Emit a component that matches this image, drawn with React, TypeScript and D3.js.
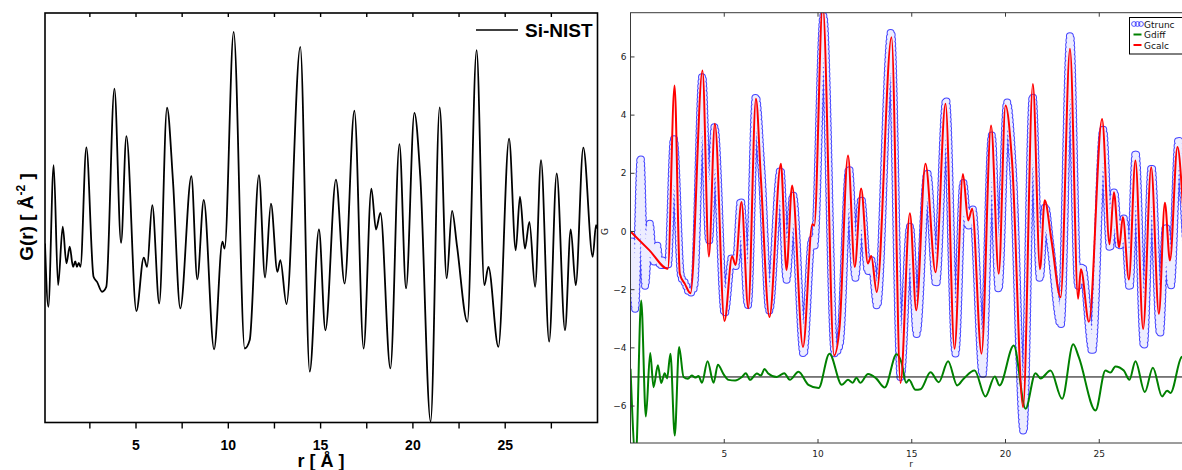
import React from "react";
import * as d3 from "d3";

const W = 1182;
const H = 470;

// Observed PDF (Si-NIST, also plotted as Gtrunc on the right)
const rObs = [0.07, 0.25, 0.54, 0.78, 1.03, 1.23, 1.41, 1.59, 1.71, 1.8, 1.9, 1.99, 2.31, 2.7, 2.89, 3.16, 3.39, 3.83, 4.19, 4.48, 5.02, 5.42, 5.6, 5.88, 6.26, 6.68, 7.0, 7.4, 8.0, 8.32, 8.67, 9.23, 9.68, 9.8, 10.29, 10.89, 11.16, 11.66, 11.99, 12.31, 12.66, 12.82, 13.15, 13.9, 14.41, 14.91, 15.26, 15.83, 16.3, 16.83, 17.33, 17.75, 18.0, 18.24, 18.78, 19.27, 19.63, 20.08, 20.4, 20.96, 21.45, 21.83, 22.12, 22.39, 22.95, 23.45, 23.87, 24.09, 24.63, 25.21, 25.57, 25.8, 26.07, 26.31, 26.62, 26.94, 27.38, 27.79, 28.24, 28.55, 28.82, 29.23, 29.74, 29.92, 30.0];
const gObs = [-0.34, -2.66, 2.53, -1.87, 0.27, -1.07, -0.46, -1.2, -1.0, -1.2, -1.05, -1.2, 3.18, -1.56, -1.75, -2.11, -1.93, 5.33, -0.32, 3.59, -2.82, -0.86, -1.2, 1.06, -2.54, 4.63, 1.98, -2.72, 2.12, -1.66, 1.25, -4.22, -0.28, -0.53, 7.41, -4.19, -3.88, 2.16, -1.59, 1.12, -1.38, -0.95, -2.56, 6.86, -5.04, 0.17, -3.52, 2.0, -1.81, 4.52, -4.19, 1.67, 0.17, 0.78, -4.92, 3.3, -1.99, 4.44, 2.1, -6.87, 4.64, -1.62, 0.85, -0.44, -3.21, 6.74, -1.87, -1.2, -4.13, 3.5, -0.59, 1.37, -0.53, 0.45, -1.93, 2.71, -3.94, 2.22, -3.52, 0.17, -1.87, 3.17, -0.83, 0.33, 0.2];

// Calculated PDF (Gcalc)
const rCalc = [0, 1.0, 1.99, 2.35, 2.63, 2.9, 3.2, 3.84, 4.18, 4.5, 5.01, 5.42, 5.6, 5.92, 6.28, 6.69, 6.95, 7.41, 8.02, 8.32, 8.62, 9.2, 9.7, 9.8, 10.25, 10.86, 11.15, 11.6, 11.96, 12.3, 12.66, 12.84, 13.13, 13.92, 14.4, 14.9, 15.24, 15.73, 16.27, 16.8, 17.28, 17.73, 18.01, 18.22, 18.72, 19.23, 19.64, 20.0, 20.35, 20.94, 21.46, 21.84, 22.09, 22.45, 22.94, 23.44, 23.87, 24.02, 24.45, 25.15, 25.55, 25.78, 26.06, 26.26, 26.58, 26.93, 27.34, 27.77, 28.18, 28.5, 28.77, 29.17, 29.7, 30.0];
const gCalc = [0, -0.64, -1.28, 5.02, -1.45, -1.8, -2.12, 5.53, -0.86, 3.7, -3.08, -0.85, -1.15, 1.01, -2.64, 4.56, 1.87, -2.94, 2.33, -1.32, 1.58, -3.97, 0.25, 0.2, 7.8, -4.26, -3.3, 2.61, -1.22, 1.48, -1.1, -0.84, -2.08, 6.68, -5.21, 0.63, -2.71, 2.33, -1.4, 4.39, -4.03, 1.98, 0.38, 0.78, -4.2, 3.64, -1.45, 4.33, 2.4, -6.04, 5.07, -1.3, 1.07, -0.3, -2.26, 6.28, -2.31, -1.3, -3.1, 3.87, -0.44, 1.35, -0.54, 0.5, -1.65, 2.44, -3.35, 2.21, -2.83, 0.99, -1.0, 2.9, -0.6, 0.3];

// Difference curve (Gdiff, offset at -5)
const rDiff = [0.0, 0.28, 0.57, 0.82, 1.05, 1.23, 1.46, 1.64, 1.82, 1.95, 2.13, 2.36, 2.59, 2.83, 3.06, 3.27, 3.45, 3.63, 3.81, 4.11, 4.43, 4.66, 4.96, 5.23, 5.58, 5.94, 6.15, 6.38, 6.74, 6.95, 7.15, 7.33, 7.8, 8.2, 8.5, 8.96, 9.49, 10.03, 10.61, 11.27, 11.6, 11.85, 12.05, 12.25, 12.67, 13.1, 13.56, 14.19, 14.45, 14.7, 14.85, 15.2, 15.47, 16.0, 16.44, 16.94, 17.42, 17.78, 18.35, 18.93, 19.43, 19.68, 20.44, 21.07, 21.6, 21.87, 22.4, 23.02, 23.61, 23.91, 24.8, 25.33, 25.6, 25.86, 26.31, 26.61, 26.93, 27.43, 27.86, 28.35, 28.62, 28.8, 29.39, 30.0];
const gDiff = [-4.72, -7.8, -2.37, -6.36, -4.18, -5.35, -4.6, -5.21, -4.87, -5.05, -4.2, -7.01, -3.97, -5.0, -5.06, -4.95, -5.02, -4.97, -5.2, -4.46, -5.2, -4.58, -4.9, -5.1, -5.12, -5.0, -4.87, -5.1, -4.88, -4.95, -4.73, -4.87, -5.0, -4.87, -5.1, -4.82, -5.27, -5.38, -4.2, -5.27, -5.1, -5.2, -5.03, -5.2, -4.9, -5.05, -5.36, -4.22, -4.5, -5.2, -5.1, -5.44, -5.42, -4.84, -5.18, -4.46, -5.29, -5.05, -4.78, -5.67, -4.98, -5.29, -3.92, -6.09, -4.87, -5.05, -4.78, -5.75, -3.88, -4.32, -6.15, -4.78, -4.85, -4.64, -4.78, -5.1, -4.46, -5.52, -4.68, -5.67, -5.47, -5.55, -4.32, -4.2];

const diffBaseline = -5;

const leftMinorTicks = [2.5, 5, 7.5, 10, 12.5, 15, 17.5, 20, 22.5, 25, 27.5];
const leftTickLabels = [5, 10, 15, 20, 25];
const rightXTicks = [5, 10, 15, 20, 25];
const rightYTicks = [6, 4, 2, 0, -2, -4, -6];

const legendLeft = "Si-NIST";
const legendRight = ["Gtrunc", "Gdiff", "Gcalc"];

const pts = (rs: number[], gs: number[]) => rs.map((r, i) => [r, gs[i]] as [number, number]);

export default function App() {
  // Left panel scales
  const xL = d3.scaleLinear().domain([0.07, 30]).range([45, 597.5]);
  const yL = d3.scaleLinear().domain([-6.9, 8.1]).range([422.5, 13]);
  // Right panel scales
  const xR = d3.scaleLinear().domain([0, 30]).range([630.5, 1193]);
  const yR = d3.scaleLinear().domain([-7.27, 7.52]).range([443, 12.7]);

  const lineL = d3.line<[number, number]>().x((d) => xL(d[0])).y((d) => yL(d[1])).curve(d3.curveMonotoneX);
  const lineR = d3.line<[number, number]>().x((d) => xR(d[0])).y((d) => yR(d[1])).curve(d3.curveMonotoneX);

  const obsL = lineL(pts(rObs, gObs)) || "";
  const obsR = lineR(pts(rObs, gObs)) || "";
  const calcR = lineR(pts(rCalc, gCalc)) || "";
  const diffR = lineR(pts(rDiff, gDiff)) || "";

  const fL = "'Liberation Sans', Arial, Helvetica, sans-serif";
  const fR = "'DejaVu Sans', sans-serif";
  const axisGray = "#3a3a3a";
  const blue = "#2424ff";

  const lf = { x: 45, y: 13, w: 552.5, h: 409.5 };
  const rf = { x: 630.5, y: 12.7, w: 1193 - 630.5, h: 443 - 12.7 };

  return (
    <svg width={W} height={H} style={{ position: "absolute", left: 0, top: 0, background: "#fff" }}>
      <defs>
        <clipPath id="clipL">
          <rect x={lf.x} y={lf.y} width={lf.w} height={lf.h} />
        </clipPath>
        <clipPath id="clipR">
          <rect x={rf.x} y={rf.y} width={rf.w} height={rf.h} />
        </clipPath>
      </defs>
      <rect x={0} y={0} width={W} height={H} fill="#fff" />

      {/* ---------- LEFT PANEL ---------- */}
      <g>
        <path d={obsL} fill="none" stroke="#000" strokeWidth={1.8} clipPath="url(#clipL)" />
        <rect x={lf.x} y={lf.y} width={lf.w} height={lf.h} fill="none" stroke="#000" strokeWidth={1.6} />
        {leftMinorTicks.map((t) => (
          <g key={"lt" + t}>
            <line x1={xL(t)} x2={xL(t)} y1={lf.y + lf.h} y2={lf.y + lf.h + 6} stroke="#000" strokeWidth={1.4} />
            <line x1={xL(t)} x2={xL(t)} y1={lf.y} y2={lf.y + 4} stroke="#000" strokeWidth={1.4} />
          </g>
        ))}
        {leftTickLabels.map((t) => (
          <text key={"ll" + t} x={xL(t)} y={450} textAnchor="middle" fontFamily={fL} fontWeight="bold" fontSize={14} fill="#000">
            {t}
          </text>
        ))}
        <text x={321} y={467} textAnchor="middle" fontFamily={fL} fontWeight="bold" fontSize={18} fill="#000">
          r [ Å ]
        </text>
        <text transform="translate(33,217) rotate(-90)" textAnchor="middle" fontFamily={fL} fontWeight="bold" fontSize={19} fill="#000">
          <tspan>G(r) [ Å</tspan>
          <tspan fontSize={12} dy={-8}>-2</tspan>
          <tspan dy={8}> ]</tspan>
        </text>
        <line x1={476} x2={518} y1={30} y2={30} stroke="#000" strokeWidth={1.6} />
        <text x={525} y={37} fontFamily={fL} fontWeight="bold" fontSize={19} fill="#000">
          {legendLeft}
        </text>
      </g>

      {/* ---------- RIGHT PANEL ---------- */}
      <g>
        <g clipPath="url(#clipR)">
          <path d={obsR} fill="none" stroke={blue} strokeOpacity={0.85} strokeWidth={8} strokeLinecap="round" strokeDasharray="0 4.5" />
          <path d={obsR} fill="none" stroke="#ffffff" strokeOpacity={0.9} strokeWidth={6} strokeLinecap="round" strokeDasharray="0 4.5" />
          <line x1={rf.x} x2={rf.x + rf.w} y1={yR(diffBaseline)} y2={yR(diffBaseline)} stroke="#000" strokeWidth={1} />
          <path d={diffR} fill="none" stroke="#008000" strokeWidth={2} />
          <path d={calcR} fill="none" stroke="#ff0000" strokeWidth={2} />
        </g>
        <rect x={rf.x} y={rf.y} width={rf.w} height={rf.h} fill="none" stroke={axisGray} strokeWidth={1} />
        {rightXTicks.map((t) => (
          <g key={"rx" + t}>
            <line x1={xR(t)} x2={xR(t)} y1={rf.y + rf.h} y2={rf.y + rf.h - 4} stroke={axisGray} />
            <line x1={xR(t)} x2={xR(t)} y1={rf.y} y2={rf.y + 4} stroke={axisGray} />
            <text x={xR(t)} y={457} textAnchor="middle" fontFamily={fR} fontSize={9} fill="#222">
              {t}
            </text>
          </g>
        ))}
        {rightYTicks.map((t) => (
          <g key={"ry" + t}>
            <line x1={rf.x} x2={rf.x + 4} y1={yR(t)} y2={yR(t)} stroke={axisGray} />
            <text x={626.5} y={yR(t) + 3.2} textAnchor="end" fontFamily={fR} fontSize={9} fill="#222">
              {t < 0 ? "\u2212" + Math.abs(t) : String(t)}
            </text>
          </g>
        ))}
        <text x={911} y={467} textAnchor="middle" fontFamily={fR} fontSize={9} fill="#222">
          r
        </text>
        <text transform={`translate(608,${yR(0)}) rotate(-90)`} textAnchor="middle" fontFamily={fR} fontSize={9} fill="#222">
          G
        </text>

        {/* legend */}
        <rect x={1129.5} y={17.5} width={70} height={36.5} fill="#fff" stroke="#000" strokeWidth={1} />
        {[0, 1, 2].map((i) => (
          <circle key={"lc" + i} cx={1134 + i * 3.5} cy={24} r={2.4} fill="none" stroke={blue} strokeOpacity={0.85} strokeWidth={0.9} />
        ))}
        <line x1={1133.5} x2={1141.5} y1={34.5} y2={34.5} stroke="#008000" strokeWidth={2} />
        <line x1={1133.5} x2={1141.5} y1={45} y2={45} stroke="#ff0000" strokeWidth={2} />
        {legendRight.map((s, i) => (
          <text key={s} x={1144} y={27.5 + i * 10.5} fontFamily={fR} fontSize={9} fill="#111">
            {s}
          </text>
        ))}
      </g>
    </svg>
  );
}
